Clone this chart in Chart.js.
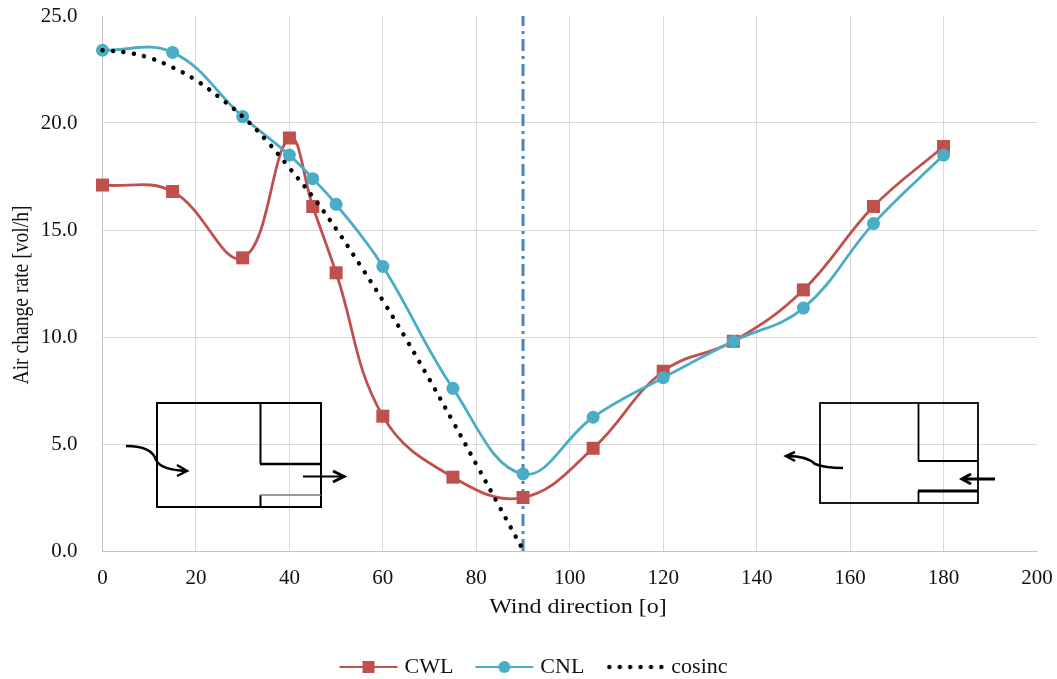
<!DOCTYPE html>
<html>
<head>
<meta charset="utf-8">
<title>Air change rate</title>
<script src="https://cdn.jsdelivr.net/npm/chart.js@4/dist/chart.umd.min.js"></script>
<style>
  html, body { margin: 0; padding: 0; background: #fff; }
  canvas { display: block; }
</style>
</head>
<body>
<canvas id="myChart" width="1057" height="679"></canvas>
<script>
const windDirection = [0, 15, 30, 40, 45, 50, 60, 75, 90, 105, 120, 135, 150, 165, 180]
const cwlValues = [17.1, 16.8, 13.7, 19.3, 16.1, 13.0, 6.3, 3.45, 2.5, 4.8, 8.4, 9.8, 12.2, 16.1, 18.9]
const cnlValues = [23.4, 23.3, 20.3, 18.5, 17.4, 16.2, 13.3, 7.6, 3.6, 6.25, 8.1, 9.8, 11.35, 15.3, 18.5]
const cosineDirection = [0, 5, 10, 15, 20, 25, 30, 35, 40, 45, 50, 55, 60, 65, 70, 75, 80, 85, 90]
const cosineValues = [23.4, 23.3, 23.05, 22.6, 22.0, 21.2, 20.3, 19.2, 17.9, 16.55, 15.05, 13.4, 11.7, 9.9, 8.0, 6.05, 4.05, 2.05, 0.05]
const markerDirection = [90, 90]
const markerValues = [0, 25]
const xTitle = 'Wind direction [o]'
const yTitle = 'Air change rate [vol/h]'

const red = '#C0504D', teal = '#4BACC6', blue = '#4F81BD', textColor = '#111'
const serif = '"Liberation Serif", serif'

function toPoints(xs, ys) {
  return xs.map((x, i) => ({ x: x, y: ys[i] }))
}

// legend keys, line with marker in the middle
function legendKey(draw) {
  const c = document.createElement('canvas')
  c.width = 60
  c.height = 16
  draw(c.getContext('2d'))
  return c
}
const cwlKey = legendKey(ctx => {
  ctx.fillStyle = red
  ctx.fillRect(1, 7, 58, 2)
  ctx.fillRect(24, 2, 12, 12)
})
const cnlKey = legendKey(ctx => {
  ctx.fillStyle = teal
  ctx.fillRect(1, 7, 58, 2)
  ctx.beginPath()
  ctx.arc(30, 8, 6, 0, Math.PI * 2)
  ctx.fill()
})
const cosineKey = legendKey(ctx => {
  ctx.fillStyle = '#000'
  for (let i = 0; i < 6; i++) {
    ctx.beginPath()
    ctx.arc(4 + i * 10.4, 8, 2.2, 0, Math.PI * 2)
    ctx.fill()
  }
})

function line(ctx, pts, width, color) {
  ctx.beginPath()
  ctx.lineWidth = width
  ctx.strokeStyle = color || '#000'
  ctx.moveTo(pts[0][0], pts[0][1])
  for (let i = 1; i < pts.length; i++) ctx.lineTo(pts[i][0], pts[i][1])
  ctx.stroke()
}

function curve(ctx, p, width) {
  ctx.beginPath()
  ctx.lineWidth = width
  ctx.strokeStyle = '#000'
  ctx.moveTo(p[0], p[1])
  ctx.bezierCurveTo(p[2], p[3], p[4], p[5], p[6], p[7])
  ctx.bezierCurveTo(p[8], p[9], p[10], p[11], p[12], p[13])
  ctx.stroke()
}

function stretchedText(ctx, text, x, y, rotation, sx, sy) {
  ctx.save()
  ctx.translate(x, y)
  ctx.rotate(rotation)
  ctx.scale(sx, sy)
  ctx.textAlign = 'center'
  ctx.textBaseline = 'middle'
  ctx.fillStyle = textColor
  ctx.fillText(text, 0, 0)
  ctx.restore()
}

// floor plan sketches and the axis titles, the titles sit a bit off centre and
// are wider than the font so the scale title option can not do them
const sketches = {
  id: 'sketches',
  afterLayout(chart) {
    chart.legend.left += 17
    chart.legend.right += 17
    chart.legend.top += 9
    chart.legend.bottom += 9
  },
  afterDatasetsDraw(chart) {
    const ctx = chart.ctx
    ctx.save()
    ctx.lineCap = 'butt'
    ctx.lineJoin = 'miter'
    ctx.setLineDash([])

    // left sketch
    ctx.lineWidth = 2
    ctx.strokeStyle = '#000'
    ctx.strokeRect(157, 403, 164, 104)
    line(ctx, [[260.5, 403], [260.5, 464]], 2)
    line(ctx, [[260, 464], [321, 464]], 2.5)
    line(ctx, [[260.5, 507], [260.5, 495]], 2)
    line(ctx, [[260, 495], [321, 495]], 1.5, '#777')
    curve(ctx, [126, 446, 142, 446, 153, 450, 156, 460, 160, 468, 172, 470, 186, 471], 2.5)
    line(ctx, [[177, 465], [187, 471], [177, 476]], 2.5)
    line(ctx, [[303, 476.5], [343, 476.5]], 1.8)
    line(ctx, [[333, 471], [344, 476.5], [333, 482]], 3)

    // right sketch
    ctx.lineWidth = 1.8
    ctx.strokeStyle = '#000'
    ctx.strokeRect(820, 403, 158, 100)
    line(ctx, [[918.5, 403], [918.5, 461]], 1.8)
    line(ctx, [[918, 461], [978, 461]], 1.8)
    line(ctx, [[918.5, 503], [918.5, 491]], 1.8)
    line(ctx, [[918, 491], [978, 491]], 3)
    line(ctx, [[995, 479], [963, 479]], 3)
    line(ctx, [[971, 474], [962, 479], [971, 484]], 3)
    curve(ctx, [843, 468, 830, 468, 820, 466, 815, 464, 810, 459, 800, 456, 787, 456], 2.5)
    line(ctx, [[795, 452], [786, 456], [795, 461]], 2.5)

    // axis titles
    ctx.font = '20px ' + serif
    stretchedText(ctx, xTitle, 578, 608, 0, 1.2, 1)
    stretchedText(ctx, yTitle, 22, 295, -Math.PI / 2, 0.98, 1.15)
    ctx.restore()
  }
}

// no line on the last tick, the plot has no top or right edge
function gridColor(c) {
  if (c.tick && (c.tick.value === 25 || c.tick.value === 200)) return 'rgba(0,0,0,0)'
  return '#d9d9d9'
}

const ctx = document.getElementById('myChart').getContext('2d')
const chart = new Chart(ctx, {
  type: 'scatter',
  plugins: [sketches],
  data: {
    datasets: [
      {
        label: 'CWL',
        data: toPoints(windDirection, cwlValues),
        showLine: true,
        tension: 0.4,
        borderColor: red,
        backgroundColor: red,
        borderWidth: 2.8,
        pointStyle: 'rect',
        pointRadius: 9.2,
        pointHoverRadius: 9.2,
        pointBorderWidth: 0,
        clip: false,
        order: 4,
        key: cwlKey
      },
      {
        label: 'CNL',
        data: toPoints(windDirection, cnlValues),
        showLine: true,
        tension: 0.4,
        borderColor: teal,
        backgroundColor: teal,
        borderWidth: 2.8,
        pointStyle: 'circle',
        pointRadius: 6.5,
        pointHoverRadius: 6.5,
        pointBorderWidth: 0,
        clip: false,
        order: 3,
        key: cnlKey
      },
      {
        label: 'cosinc',
        data: toPoints(cosineDirection, cosineValues),
        showLine: true,
        tension: 0.4,
        borderColor: '#000',
        backgroundColor: '#000',
        borderWidth: 4.4,
        borderCapStyle: 'round',
        borderDash: [0.1, 10.4],
        pointRadius: 0,
        clip: false,
        order: 2,
        key: cosineKey
      },
      {
        label: 'marker',
        data: toPoints(markerDirection, markerValues),
        showLine: true,
        borderColor: blue,
        borderWidth: 3,
        borderDash: [12, 5, 3, 5],
        pointRadius: 0,
        order: 5,
        key: null
      }
    ]
  },
  options: {
    responsive: false,
    animation: false,
    layout: { padding: { top: 16, right: 20, bottom: 0, left: 0 } },
    plugins: {
      tooltip: { enabled: false },
      title: { display: false },
      legend: {
        position: 'bottom',
        labels: {
          usePointStyle: true,
          pointStyleWidth: 50,
          padding: 26,
          color: textColor,
          font: { family: serif, size: 22 },
          generateLabels(c) {
            return c.data.datasets.filter(d => d.key).map(d => ({
              text: d.label,
              pointStyle: d.key,
              fontColor: textColor,
              lineWidth: 0,
              strokeStyle: 'transparent',
              fillStyle: 'transparent'
            }))
          }
        }
      }
    },
    scales: {
      x: {
        type: 'linear',
        min: 0,
        max: 200,
        afterFit(scale) {
          scale.height = 70
          scale.paddingLeft = 0
          scale.paddingRight = 0
        },
        ticks: {
          stepSize: 20,
          padding: 15,
          color: textColor,
          maxRotation: 0,
          font: { family: serif, size: 21 }
        },
        grid: { color: gridColor, lineWidth: 1, drawTicks: false },
        border: { color: '#c4c4c4' }
      },
      y: {
        min: 0,
        max: 25,
        afterFit(scale) {
          scale.width = 102.5
          scale.paddingTop = 0
          scale.paddingBottom = 0
        },
        ticks: {
          stepSize: 5,
          padding: 25,
          color: textColor,
          font: { family: serif, size: 21 },
          callback: v => v.toFixed(1)
        },
        grid: { color: gridColor, lineWidth: 1, drawTicks: false },
        border: { color: '#c4c4c4' }
      }
    }
  }
})
</script>
</body>
</html>
